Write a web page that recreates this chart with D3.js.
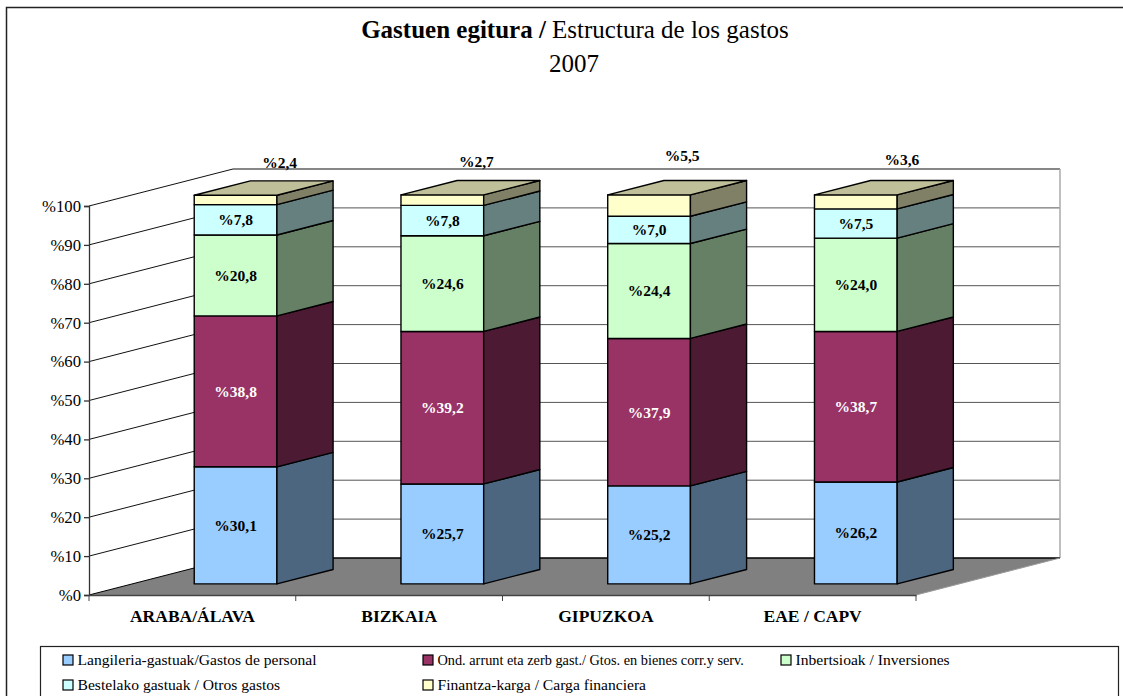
<!DOCTYPE html>
<html>
<head>
<meta charset="utf-8">
<script src="https://cdn.jsdelivr.net/npm/d3@7"></script>
<style>
    html, body { margin: 0; padding: 0; background: #fff; overflow: hidden; }
    text { font-family: "Liberation Serif", serif; fill: #000; }
</style>
</head>
<body>
<div id="chart"></div>
<script>
const categories = ["ARABA/ÁLAVA", "BIZKAIA", "GIPUZKOA", "EAE / CAPV"];
const seriesNames = [
    "Langileria-gastuak/Gastos de personal",
    "Ond. arrunt eta zerb gast./ Gtos. en bienes corr.y serv.",
    "Inbertsioak / Inversiones",
    "Bestelako gastuak / Otros gastos",
    "Finantza-karga / Carga financiera"
];
const personal = [30.1, 25.7, 25.2, 26.2];
const corriente = [38.8, 39.2, 37.9, 38.7];
const inversiones = [20.8, 24.6, 24.4, 24.0];
const otros = [7.8, 7.8, 7.0, 7.5];
const financiera = [2.4, 2.7, 5.5, 3.6];
const yTicks = [0, 10, 20, 30, 40, 50, 60, 70, 80, 90, 100];

const seriesColors = ["#99ccff", "#993366", "#ccffcc", "#ccffff", "#ffffcc"];
const labelColors = ["#000", "#fff", "#000", "#000", "#000"];
// the top labels were dragged by hand in the original
const topLabelShift = [44, 34, 33, 46];

const width = 1123, height = 696;
const depthX = 144, depthY = -37;   // oblique offset of the back wall
const barFront = 0.3, barBack = 0.69;

const svg = d3.select("#chart").append("svg")
    .attr("width", width)
    .attr("height", height);

const x = d3.scaleBand().domain(categories).range([89, 916]);
const y = d3.scaleLinear().domain([0, 100]).range([595, 206]);
const barWidth = x.bandwidth() * 0.4;

// x position, value, depth (0 front, 1 back) -> screen point
function project(px, value, z) {
    return [px + z * depthX, y(value) + z * depthY];
}

function shade(color, k) {
    let c = d3.rgb(color);
    return d3.rgb(c.r * k, c.g * k, c.b * k).formatHex();
}

function drawPoly(parent, points, fill, stroke, strokeWidth) {
    return parent.append("path")
        .attr("d", "M" + points.join("L") + "Z")
        .attr("fill", fill)
        .attr("stroke", stroke)
        .attr("stroke-width", strokeWidth)
        .attr("stroke-linejoin", "round");
}

// outer frame, only the top and left sides are in the picture
svg.append("path")
    .attr("d", "M6.5," + height + "V7.5H" + width)
    .attr("fill", "none")
    .attr("stroke", "#222")
    .attr("stroke-width", 1.5);

// title
let title = svg.append("text")
    .attr("x", 575)
    .attr("y", 38)
    .attr("text-anchor", "middle")
    .attr("font-size", 25);
title.append("tspan").attr("font-weight", "bold").text("Gastuen egitura / ");
title.append("tspan").text("Estructura de los gastos");
svg.append("text")
    .attr("x", 574)
    .attr("y", 72)
    .attr("text-anchor", "middle")
    .attr("font-size", 25)
    .text("2007");

// walls and grid
let grid = svg.append("g").attr("fill", "none");
const x0 = x.range()[0], x1 = x.range()[1];
yTicks.forEach(t => {
    if (t === 0) return;
    let a = project(x0, t, 0), b = project(x0, t, 1), c = project(x1, t, 1);
    grid.append("path")
        .attr("d", "M" + [a, b].join("L"))
        .attr("stroke", "#111")
        .attr("stroke-width", 1);
    grid.append("path")
        .attr("d", "M" + [b, c].join("L"))
        .attr("stroke", t === 100 ? "#111" : "#555")
        .attr("stroke-width", t === 100 ? 1.2 : 1);
});
grid.append("path")
    .attr("d", "M" + [project(x1, 100, 1), project(x1, 0, 1)].join("L"))
    .attr("stroke", "#aaa")
    .attr("stroke-width", 1.5);

// floor
drawPoly(svg, [project(x0, 0, 0), project(x1, 0, 0), project(x1, 0, 1), project(x0, 0, 1)], "#808080", "none", 0);
svg.append("path")
    .attr("d", "M" + [project(x0, 0, 1), project(x1, 0, 1)].join("L"))
    .attr("stroke", "#000")
    .attr("stroke-width", 1.5);
svg.append("path")
    .attr("d", "M" + [project(x0, 0, 0), project(x0, 0, 1)].join("L"))
    .attr("stroke", "#000")
    .attr("stroke-width", 1);
svg.append("path")
    .attr("d", "M" + [project(x1, 0, 0), project(x1, 0, 1)].join("L"))
    .attr("stroke", "#999")
    .attr("stroke-width", 1);

// axes
let yAxis = svg.append("g")
    .attr("transform", "translate(" + x0 + ",0)")
    .call(d3.axisLeft(y).tickValues(yTicks).tickSize(5).tickPadding(3).tickFormat(d => "%" + d));
yAxis.selectAll("text").attr("font-size", 16.7).style("font-family", '"Liberation Serif", serif');
yAxis.selectAll("path, line").attr("stroke", "#333").attr("stroke-width", 1.3);

let xAxis = svg.append("g")
    .attr("transform", "translate(0," + y(0) + ")")
    .call(d3.axisBottom(x).tickSize(0).tickPadding(15));
xAxis.select(".domain").attr("stroke", "#444").attr("stroke-width", 1.3);
xAxis.selectAll("text")
    .attr("font-size", 17.5)
    .attr("font-weight", "bold")
    .style("font-family", '"Liberation Serif", serif');
d3.range(categories.length + 1).forEach(i => {
    xAxis.append("line")
        .attr("x1", x0 + i * x.step())
        .attr("x2", x0 + i * x.step())
        .attr("y1", 0)
        .attr("y2", 6)
        .attr("stroke", "#444");
});

// bars
const allSeries = [personal, corriente, inversiones, otros, financiera];
let bars = svg.append("g");
let labels = svg.append("g").attr("font-size", 15.5).attr("font-weight", "bold").attr("text-anchor", "middle");

categories.forEach((cat, i) => {
    let left = x(cat) + (x.bandwidth() - barWidth) / 2;
    let right = left + barWidth;
    let start = 0;
    allSeries.forEach((values, s) => {
        let end = start + values[i];
        let color = seriesColors[s];
        drawPoly(bars, [project(left, start, barFront), project(right, start, barFront), project(right, end, barFront), project(left, end, barFront)], color, "#000", 1.4);
        drawPoly(bars, [project(right, start, barFront), project(right, start, barBack), project(right, end, barBack), project(right, end, barFront)], shade(color, 0.5), "#000", 1.4);
        if (s === allSeries.length - 1) {
            drawPoly(bars, [project(left, end, barFront), project(right, end, barFront), project(right, end, barBack), project(left, end, barBack)], shade(color, 0.75), "#000", 1.4);
        }
        let p = project((left + right) / 2, (start + end) / 2, barFront);
        let px = p[0], py = p[1];
        if (s === allSeries.length - 1) {
            px += topLabelShift[i];
            py -= 27 + 4.2 * values[i];
        }
        labels.append("text")
            .attr("x", px)
            .attr("y", py)
            .attr("dy", "0.35em")
            .style("fill", labelColors[s])
            .text("%" + d3.format(".1f")(values[i]).replace(".", ","));
        start = end;
    });
});

// legend
svg.append("rect")
    .attr("x", 40.5)
    .attr("y", 646.5)
    .attr("width", 1078)
    .attr("height", 60)
    .attr("fill", "none")
    .attr("stroke", "#222")
    .attr("stroke-width", 1.2);

const legendX = d3.scaleOrdinal().domain([0, 1, 2]).range([63, 423, 781]);
const legendY = d3.scaleOrdinal().domain([0, 1]).range([660, 685]);
seriesNames.forEach((name, s) => {
    let g = svg.append("g")
        .attr("transform", "translate(" + legendX(s % 3) + "," + legendY(Math.floor(s / 3)) + ")");
    g.append("rect")
        .attr("x", 0)
        .attr("y", -5)
        .attr("width", 10)
        .attr("height", 10)
        .attr("fill", seriesColors[s])
        .attr("stroke", "#000")
        .attr("stroke-width", 1.2);
    g.append("text")
        .attr("x", 14.5)
        .attr("dy", "0.32em")
        .attr("font-size", s === 1 ? 14.3 : 15.6)
        .text(name);
});
</script>
</body>
</html>
